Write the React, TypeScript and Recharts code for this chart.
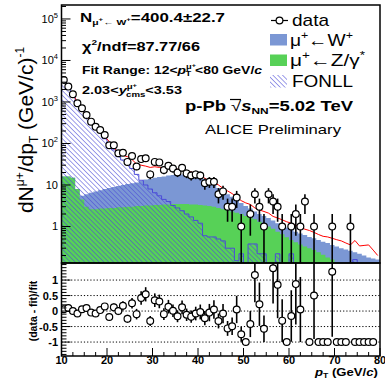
import React from 'react';
import { ComposedChart, Area, Line, Scatter, ErrorBar, XAxis, YAxis, ReferenceLine } from 'recharts';

// 1 GeV/c wide pT bins from 10 to 80 GeV/c
const PT_MIN = 10;
const PT_MAX = 80;
const FIT_FIRST_BIN = 2; // fit range starts at 12 GeV/c

// muon counts per bin (dN/dpT, 1 GeV/c bins) and their statistical errors
const dataCounts = [
  3400, 2350, 1530, 930, 705, 485, 336, 254, 212, 160,
  91, 91, 58, 60, 36, 50, 28, 42, 44, 18,
  36, 35, 23, 29, 25, 20, 26, 19, 17, 18,
  17, 11, 12, 12, 6, 7, 3, 3, 5, 1,
  0, 2, 6, 3, 1, 6, 4, 3, 1, 0,
  1, 2, 1, 4, 0, 1, 0, 0, 0, 1,
  0, 0, 0, 1, 0, 0, 0, 0, 0, 0,
];
const dataErrors = [
  58, 48, 39, 30, 27, 22, 18, 16, 15, 13,
  9.5, 9.5, 7.6, 7.7, 6, 7.1, 5.3, 6.5, 6.6, 4.2,
  6, 5.9, 4.8, 5.4, 5, 4.5, 5.1, 4.4, 4.1, 4.2,
  4.1, 3.3, 3.5, 3.5, 2.4, 2.6, 1.7, 1.7, 2.2, 1,
  0, 1.4, 2.4, 1.7, 1, 2.4, 2, 1.7, 1, 0,
  1, 1.4, 1, 2, 0, 1, 0, 0, 0, 1,
  0, 0, 0, 1, 0, 0, 0, 0, 0, 0,
];

// total fit, bins 12-80 GeV/c
const fitValues = [
  1500, 1010, 680, 450, 350, 272, 205, 145,
  112, 82, 58, 52, 48, 41, 32, 30, 28.5, 26.5,
  27.5, 26.5, 25.5, 25, 24.5, 24, 23, 21.5, 20.5, 19.5,
  17.5, 14.5, 12.5, 11.5, 10, 8.3, 7.2, 6.2, 5.1, 4.2,
  3.7, 3.4, 2.8, 2.5, 2.3, 2.1, 1.75, 1.6, 1.45, 1.3,
  1.2, 1.07, 0.95, 0.86, 0.8, 0.72, 0.64, 0.58, 0.56, 0.52,
  0.48, 0.45, 0.4, 0.36, 0.46, 0.34, 0.35, 0.36, 0.27, 0.2,
];

// (data - fit)/fit, null where the point is off scale
const ratioValues = [
  0.06, 0.1, 0.0, -0.08, 0.06, 0.1, -0.05, -0.08, 0.03, 0.15,
  -0.19, 0.12, 0.0, 0.17, -0.25, 0.25, -0.1, 0.42, 0.54, -0.32,
  0.35, 0.31, -0.1, 0.14, 0.01, -0.17, 0.12, -0.12, -0.18, -0.08,
  -0.03, -0.23, -0.05, 0.05, -0.32, -0.08, -0.56, -0.49, 0.05, -0.75,
  -1, -0.42, 1.16, 0.22, -0.57, null, 1.38, 0.85, -0.31, -1,
  -0.16, 0.87, 0.05, null, -1, 0.5, -1, -1, -1, 1.27,
  -1, -1, -1, null, -1, -1, -1, -1, -1, null,
];
const ratioErrors = [
  0.02, 0.02, 0.03, 0.03, 0.04, 0.05, 0.05, 0.06, 0.07, 0.09,
  0.09, 0.12, 0.13, 0.15, 0.13, 0.17, 0.17, 0.22, 0.23, 0.16,
  0.22, 0.22, 0.19, 0.22, 0.2, 0.19, 0.22, 0.2, 0.2, 0.22,
  0.24, 0.23, 0.28, 0.3, 0.24, 0.31, 0.24, 0.28, 0.44, 0.24,
  0, 0.42, 0.88, 0.7, 0.43, 0, 1.14, 1.08, 0.69, 0,
  0.83, 1.3, 1.05, 0, 0, 1.4, 0, 0, 0, 2.1,
  0, 0, 0, 0, 0, 0, 0, 0, 0, 0,
];

// templates: heavy-flavour decay muons (FONLL), Z/gamma* and W
const fonllValues = [
  3150, 2100, 1420, 950, 640, 430, 330, 250, 185, 130,
  98, 70, 48, 40, 32, 25, 18, 13, 10, 8,
  6.5, 5.5, 4.5, 4, 3.2, 2.8, 2.4, 2.0, 1.7, 1.4,
  1.2, 0.6, 0.56, 0.56, 0.5, 0.45, 0.3, 0.3, 0.15, 0.22,
  0.01, 0.38, 0.38, 0.22, 0.22, 0.01, 0.01, 0.22, 0.01, 0.01,
  0.22, 0.01, 0.01, 0.01, 0.01, 0.01, 0.01, 0.01, 0.01, 0.01,
  0.01, 0.01, 0.01, 0.01, 0.16, 0.01, 0.01, 0.01, 0.01, 0.01,
];
const zValues = [
  16, 16, 15, 8, 4.5, 3.0, 2.6, 2.6, 2.7, 2.7,
  2.8, 2.8, 2.9, 2.9, 3.0, 3.0, 3.1, 3.1, 3.2, 3.2,
  3.3, 3.3, 3.4, 3.4, 3.5, 3.5, 3.5, 3.5, 3.4, 3.4,
  3.3, 3.2, 3.1, 3.0, 2.8, 2.6, 2.45, 2.3, 2.15, 2.0,
  1.8, 1.65, 1.5, 1.3, 1.15, 1.0, 0.88, 0.75, 0.65, 0.55,
  0.47, 0.42, 0.37, 0.33, 0.3, 0.27, 0.24, 0.21, 0.18, 0.16,
  0.14, 0.12, 0.11, 0.1, 0.09, 0.08, 0.07, 0.06, 0.05, 0.05,
];
const wValues = [
  0, 0, 0, 0, 1.0, 3.0, 3.9, 4.4, 4.8, 5.3,
  5.7, 6.2, 6.6, 7.1, 7.5, 8.0, 8.4, 9.4, 10.3, 10.8,
  11.7, 12.2, 12.6, 13.6, 14.0, 14.5, 14.5, 14.5, 14.6, 14.1,
  13.2, 10.8, 8.9, 7.0, 5.7, 4.4, 3.55, 2.9, 2.25, 1.7,
  1.3, 1.05, 0.8, 0.7, 0.65, 0.6, 0.52, 0.45, 0.4, 0.4,
  0.38, 0.33, 0.31, 0.29, 0.26, 0.25, 0.23, 0.22, 0.22, 0.2,
  0.19, 0.18, 0.17, 0.16, 0.15, 0.14, 0.13, 0.12, 0.12, 0.11,
];

const xTicks = Array.from({ length: 29 }, (_, k) => PT_MIN + 2.5 * k);
const logDecades = [0.1, 1, 10, 100, 1000, 10000, 100000];
const logMantissas = [1, 2, 3, 4, 5, 6, 7, 8, 9];
const ratioTicks = Array.from({ length: 30 }, (_, k) => (k - 14) / 10);
const ratioGrid = [1, 0.5, 0, -0.5, -1];

// axis ranges and page layout
const Y_MIN = 0.132;
const Y_MAX = 2.17e5;
const R_MIN = -1.45;
const R_MAX = 1.55;
const PAGE_W = 385;
const PAGE_H = 378;
const PLOT_L = 61.5;
const PLOT_R = 380;
const TOP_T = 5;
const TOP_B = 263;
const LOW_B = 356;

const FONT = "'Liberation Sans', Arial, Helvetica, sans-serif";
const W_BLUE = '#7b97d4';
const Z_GREEN = '#57d157';
const HATCH = '#4b4bd8';

const logTicks = logDecades
  .flatMap((d) => logMantissas.map((m) => m * d))
  .filter((v) => v >= Y_MIN && v <= Y_MAX);

// step histograms: one row per lower bin edge plus the closing edge
const histRows = [...dataCounts.map((_, i) => PT_MIN + i), PT_MAX].map((x, i) => {
  const j = Math.min(i, dataCounts.length - 1);
  return { x, fonll: fonllValues[j], z: zValues[j], wz: zValues[j] + wValues[j] };
});

const fitRows = fitValues.map((fit, k) => ({ x: PT_MIN + FIT_FIRST_BIN + k + 0.5, fit }));

const dataPoints = dataCounts.flatMap((n, i) =>
  n > 0
    ? [{ x: PT_MIN + i + 0.5, y: n, err: [Math.min(dataErrors[i], n - Y_MIN), dataErrors[i]] }]
    : []
);

const ratioPoints = ratioValues.flatMap((r, i) =>
  r === null
    ? []
    : [{
        x: PT_MIN + i + 0.5,
        y: r,
        err: [Math.min(ratioErrors[i], r - R_MIN), Math.min(ratioErrors[i], R_MAX - r)],
      }]
);

const OpenCircle = (props: any) => (
  <circle cx={props.cx} cy={props.cy} r={3.4} fill="#fff" stroke="#000" strokeWidth={1.2} />
);

const LogYTick = (props: any) => {
  const { y, payload } = props;
  const v: number = payload.value;
  const exp = Math.round(Math.log10(v));
  const major = Math.abs(v - Math.pow(10, exp)) < 1e-6 * v;
  return (
    <g>
      <line x1={PLOT_L} x2={PLOT_L + (major ? 9 : 4.5)} y1={y} y2={y} stroke="#000" />
      {major && exp >= 0 && (
        <text x={58} y={y + 4} textAnchor="end" fontSize={11} fontFamily={FONT} fill="#000">
          {exp === 0 ? '1' : '10'}
          {exp >= 2 && (
            <tspan dy={-5} fontSize={7.5}>
              {exp}
            </tspan>
          )}
        </text>
      )}
    </g>
  );
};

const UpperXTick = (props: any) => {
  const { x, payload } = props;
  const major = payload.value % 10 === 0;
  return <line x1={x} x2={x} y1={TOP_B} y2={TOP_B - (major ? 8 : 4)} stroke="#000" />;
};

const LowerXTick = (props: any) => {
  const { x, payload } = props;
  const major = payload.value % 10 === 0;
  const bottom = LOW_B - TOP_B;
  return (
    <g>
      <line x1={x} x2={x} y1={bottom} y2={bottom - (major ? 8 : 4)} stroke="#000" />
      {major && (
        <text x={x} y={bottom + 7.5} textAnchor="middle" fontSize={11} fontWeight="bold" fontFamily={FONT} fill="#000">
          {payload.value}
        </text>
      )}
    </g>
  );
};

const RatioYTick = (props: any) => {
  const { y, payload } = props;
  const k = Math.round(payload.value * 10);
  const major = k % 5 === 0 && Math.abs(k) <= 10;
  const label = k === 0 ? '0' : k === 5 ? '0.5' : k === -5 ? '-0.5' : k === 10 ? '1' : '-1';
  return (
    <g>
      <line x1={PLOT_L} x2={PLOT_L + (major ? 9 : 5)} y1={y} y2={y} stroke="#000" />
      {major && (
        <text x={58} y={y + 4} textAnchor="end" fontSize={11} fontWeight="bold" fontFamily={FONT} fill="#000">
          {label}
        </text>
      )}
    </g>
  );
};

function SpectrumPanel() {
  return (
    <ComposedChart
      width={PAGE_W}
      height={TOP_B}
      margin={{ top: TOP_T, right: PAGE_W - PLOT_R, bottom: 0, left: 0 }}
    >
      <defs>
        <pattern id="fonllHatch" patternUnits="userSpaceOnUse" width={3.4} height={3.4} patternTransform="rotate(-45)">
          <line x1={0} y1={0} x2={0} y2={3.4} stroke={HATCH} strokeWidth={1.1} />
        </pattern>
      </defs>
      <XAxis
        dataKey="x"
        type="number"
        domain={[PT_MIN, PT_MAX]}
        allowDataOverflow
        ticks={xTicks}
        interval={0}
        height={0}
        axisLine={false}
        tickLine={false}
        tick={UpperXTick}
      />
      <YAxis
        type="number"
        scale="log"
        domain={[Y_MIN, Y_MAX]}
        allowDataOverflow
        ticks={logTicks}
        interval={0}
        width={PLOT_L}
        axisLine={false}
        tickLine={false}
        tick={LogYTick}
      />
      <Area
        data={histRows}
        dataKey="wz"
        type="stepAfter"
        baseValue={Y_MIN}
        fill={W_BLUE}
        fillOpacity={1}
        stroke="none"
        dot={false}
        activeDot={false}
        isAnimationActive={false}
      />
      <Area
        data={histRows}
        dataKey="z"
        type="stepAfter"
        baseValue={Y_MIN}
        fill={Z_GREEN}
        fillOpacity={1}
        stroke="none"
        dot={false}
        activeDot={false}
        isAnimationActive={false}
      />
      <Area
        data={histRows}
        dataKey="fonll"
        type="stepAfter"
        baseValue={Y_MIN}
        fill="url(#fonllHatch)"
        fillOpacity={1}
        stroke={HATCH}
        strokeWidth={1}
        dot={false}
        activeDot={false}
        isAnimationActive={false}
      />
      <Line
        data={fitRows}
        dataKey="fit"
        type="linear"
        stroke="#ff0000"
        strokeWidth={1}
        dot={false}
        activeDot={false}
        isAnimationActive={false}
      />
      <Scatter data={dataPoints} dataKey="y" shape={OpenCircle} isAnimationActive={false}>
        <ErrorBar dataKey="err" direction="y" width={0} stroke="#000" strokeWidth={1.6} isAnimationActive={false} />
      </Scatter>
    </ComposedChart>
  );
}

function RatioPanel() {
  return (
    <ComposedChart
      width={PAGE_W}
      height={PAGE_H - TOP_B}
      margin={{ top: 0, right: PAGE_W - PLOT_R, bottom: 0, left: 0 }}
    >
      <XAxis
        dataKey="x"
        type="number"
        domain={[PT_MIN, PT_MAX]}
        allowDataOverflow
        ticks={xTicks}
        interval={0}
        height={PAGE_H - LOW_B}
        axisLine={false}
        tickLine={false}
        tick={LowerXTick}
      />
      <YAxis
        type="number"
        domain={[R_MIN, R_MAX]}
        allowDataOverflow
        ticks={ratioTicks}
        interval={0}
        width={PLOT_L}
        axisLine={false}
        tickLine={false}
        tick={RatioYTick}
      />
      {ratioGrid.map((v) => (
        <ReferenceLine key={v} y={v} stroke="#000" strokeWidth={1} strokeDasharray="1.2 2" />
      ))}
      <Scatter data={ratioPoints} dataKey="y" shape={OpenCircle} isAnimationActive={false}>
        <ErrorBar dataKey="err" direction="y" width={0} stroke="#000" strokeWidth={1.6} isAnimationActive={false} />
      </Scatter>
    </ComposedChart>
  );
}

export default function App() {
  return (
    <div
      style={{
        position: 'absolute',
        left: 0,
        top: 0,
        width: PAGE_W,
        height: PAGE_H,
        background: '#fff',
        fontFamily: FONT,
      }}
    >
      <div style={{ position: 'absolute', left: 0, top: 0 }}>
        <SpectrumPanel />
      </div>
      <div style={{ position: 'absolute', left: 0, top: TOP_B }}>
        <RatioPanel />
      </div>
      <svg
        width={PAGE_W}
        height={PAGE_H}
        style={{ position: 'absolute', left: 0, top: 0, pointerEvents: 'none' }}
        fontFamily={FONT}
      >
        <defs>
          <pattern id="legendHatch" patternUnits="userSpaceOnUse" width={3.4} height={3.4} patternTransform="rotate(-45)">
            <line x1={0} y1={0} x2={0} y2={3.4} stroke={HATCH} strokeWidth={1.1} />
          </pattern>
        </defs>

        {/* pad frames */}
        <rect x={PLOT_L} y={TOP_T} width={PLOT_R - PLOT_L} height={TOP_B - TOP_T} fill="none" stroke="#000" strokeWidth={1.5} />
        <rect x={PLOT_L} y={TOP_B} width={PLOT_R - PLOT_L} height={LOW_B - TOP_B} fill="none" stroke="#000" strokeWidth={1.5} />

        {/* axis titles */}
        <text transform="translate(33,130) rotate(-90)" textAnchor="middle" fontSize={21}>
          dN<tspan fontSize={12} dy={-9}>μ+</tspan>
          <tspan dy={9}>/dp</tspan>
          <tspan fontSize={12} dy={5}>T</tspan>
          <tspan dy={-5}> (GeV/c)</tspan>
          <tspan fontSize={12} dy={-9}>-1</tspan>
        </text>
        <text transform="translate(37,311) rotate(-90)" textAnchor="middle" fontSize={10.5} fontWeight="bold">
          (data - fit)/fit
        </text>
        <text x={315} y={375.6} fontSize={10.6} fontWeight="bold" textLength={63} lengthAdjust="spacingAndGlyphs">
          <tspan fontStyle="italic">p</tspan>
          <tspan fontSize={7} dy={2}>T</tspan>
          <tspan dy={-2}> (GeV/</tspan>
          <tspan fontStyle="italic">c</tspan>)
        </text>

        {/* fit results */}
        <text x={80} y={22} fontSize={13} fontWeight="bold" textLength={145} lengthAdjust="spacingAndGlyphs">
          N<tspan fontSize={8} dy={3}>μ</tspan>
          <tspan fontSize={6} dy={-4}>+</tspan>
          <tspan fontSize={8} dy={4}>← W</tspan>
          <tspan fontSize={6} dy={-4}>+</tspan>
          <tspan dy={1}>=400.4±22.7</tspan>
        </text>
        <text x={82} y={51} fontSize={13} fontWeight="bold" textLength={118} lengthAdjust="spacingAndGlyphs">
          χ<tspan fontSize={8} dy={-6}>2</tspan>
          <tspan dy={6}>/ndf=87.77/66</tspan>
        </text>
        <text x={82} y={74} fontSize={10.5} fontWeight="bold" textLength={180} lengthAdjust="spacingAndGlyphs">
          Fit Range: 12&lt;<tspan fontStyle="italic">p</tspan>
          <tspan fontSize={7} dy={-5}>μ</tspan>
          <tspan fontSize={5.5} dy={-2}>+</tspan>
          <tspan fontSize={7} dx={-8} dy={9}>T</tspan>
          <tspan dx={3} dy={-2}>&lt;80 GeV/</tspan>
          <tspan fontStyle="italic">c</tspan>
        </text>
        <text x={82} y={94} fontSize={10.5} fontWeight="bold" textLength={100} lengthAdjust="spacingAndGlyphs">
          2.03&lt;<tspan fontStyle="italic">y</tspan>
          <tspan fontSize={7} dy={-5}>μ</tspan>
          <tspan fontSize={5.5} dy={-2}>+</tspan>
          <tspan fontSize={7} dx={-8} dy={10}>cms</tspan>
          <tspan dy={-3}>&lt;3.53</tspan>
        </text>

        {/* collision system */}
        <text x={185} y={111} fontSize={14} fontWeight="bold" textLength={168} lengthAdjust="spacingAndGlyphs">
          p-Pb <tspan fontWeight="normal">√</tspan>
          <tspan fontStyle="italic">s</tspan>
          <tspan fontSize={9} dy={3}>NN</tspan>
          <tspan dy={-3}>=5.02 TeV</tspan>
        </text>
        <line x1={230} x2={241} y1={99.5} y2={99.5} stroke="#000" strokeWidth={1.2} />
        <text x={205} y={134} fontSize={13} textLength={136} lengthAdjust="spacingAndGlyphs">
          ALICE Preliminary
        </text>

        {/* legend */}
        <line x1={271} x2={288} y1={20.5} y2={20.5} stroke="#000" strokeWidth={1.2} />
        <circle cx={279.5} cy={20.5} r={3.4} fill="#fff" stroke="#000" strokeWidth={1.2} />
        <text x={292} y={26} fontSize={17} textLength={37} lengthAdjust="spacingAndGlyphs">data</text>

        <rect x={270} y={34} width={17} height={11.5} fill={W_BLUE} />
        <text x={290} y={46} fontSize={17} textLength={63} lengthAdjust="spacingAndGlyphs">
          μ<tspan fontSize={11} dy={-7}>+</tspan>
          <tspan dy={7}>←W</tspan>
          <tspan fontSize={11} dy={-7}>+</tspan>
        </text>

        <rect x={270} y={54.5} width={17} height={11.5} fill={Z_GREEN} />
        <text x={290} y={66} fontSize={17} textLength={75} lengthAdjust="spacingAndGlyphs">
          μ<tspan fontSize={11} dy={-7}>+</tspan>
          <tspan dy={7}>←Z/γ</tspan>
          <tspan fontSize={11} dy={-7}>*</tspan>
        </text>

        <rect x={270} y={75} width={17} height={12.5} fill="url(#legendHatch)" />
        <text x={292} y={87} fontSize={17} textLength={61} lengthAdjust="spacingAndGlyphs">FONLL</text>
      </svg>
    </div>
  );
}
